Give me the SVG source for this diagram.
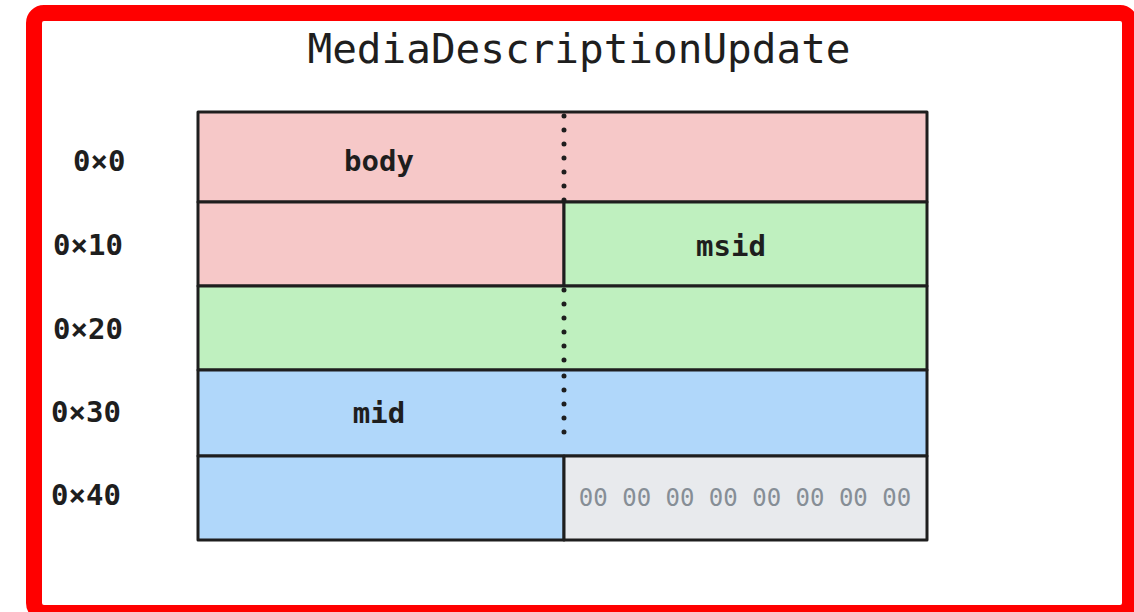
<svg xmlns="http://www.w3.org/2000/svg" width="1134" height="612" viewBox="0 0 1134 612">
  <style>
    .mono { font-family: "DejaVu Sans Mono", "Liberation Mono", monospace; fill: #1e1e1e; }
    .title { font-size: 41px; }
    .off { font-size: 29px; font-weight: bold; }
    .lbl { font-size: 29px; font-weight: bold; text-anchor: middle; }
    .pad { font-size: 24px; fill: #868e96; text-anchor: middle; }
    .cell { stroke: #1e1e1e; stroke-width: 3; stroke-linejoin: round; }
    .pink { fill: #f6c8c8; }
    .green { fill: #bff0bf; }
    .blue { fill: #b0d7fa; }
    .grey { fill: #e8eaed; }
    .dots { stroke: #1e1e1e; stroke-width: 5; stroke-linecap: round; stroke-dasharray: 0 14; fill: none; }
  </style>

  <!-- frame -->
  <rect x="0" y="0" width="1134" height="612" fill="#ffffff"/>
  <rect x="34" y="13" width="1096" height="600" rx="10" fill="#ffffff" stroke="#ff0000" stroke-width="16"/>

  <text class="mono title" x="579" y="63" text-anchor="middle">MediaDescriptionUpdate</text>

  <!-- offsets -->
  <g id="offsets">
    <text class="mono off" x="73" y="171">0×0</text>
    <text class="mono off" x="53" y="255">0×10</text>
    <text class="mono off" x="53" y="339">0×20</text>
    <text class="mono off" x="51" y="422">0×30</text>
    <text class="mono off" x="51" y="505">0×40</text>
  </g>

  <!-- body field: row 0x0 and left half of 0x10 -->
  <g id="body">
    <rect class="cell pink" x="198" y="112" width="729" height="90"/>
    <rect class="cell pink" x="198" y="202" width="366" height="84"/>
    <text class="mono lbl" x="379" y="171">body</text>
  </g>

  <!-- msid field: right half of 0x10 and row 0x20 -->
  <g id="msid">
    <rect class="cell green" x="564" y="202" width="363" height="84"/>
    <rect class="cell green" x="198" y="286" width="729" height="84"/>
    <text class="mono lbl" x="731" y="256">msid</text>
  </g>

  <!-- mid field: row 0x30 and left half of 0x40 -->
  <g id="mid">
    <rect class="cell blue" x="198" y="370" width="729" height="86"/>
    <rect class="cell blue" x="198" y="456" width="366" height="84"/>
    <text class="mono lbl" x="379" y="423">mid</text>
  </g>

  <!-- padding bytes -->
  <g id="padding">
    <rect class="cell grey" x="564" y="456" width="363" height="84"/>
    <text class="mono pad" x="745" y="506">00 00 00 00 00 00 00 00</text>
  </g>

  <!-- 8-byte boundaries inside multi-row fields -->
  <g id="connectors">
    <line class="dots" x1="564" y1="116" x2="564" y2="202"/>
    <line class="dots" x1="564" y1="290" x2="564" y2="370"/>
    <line class="dots" x1="564" y1="376" x2="564" y2="446"/>
  </g>
</svg>
